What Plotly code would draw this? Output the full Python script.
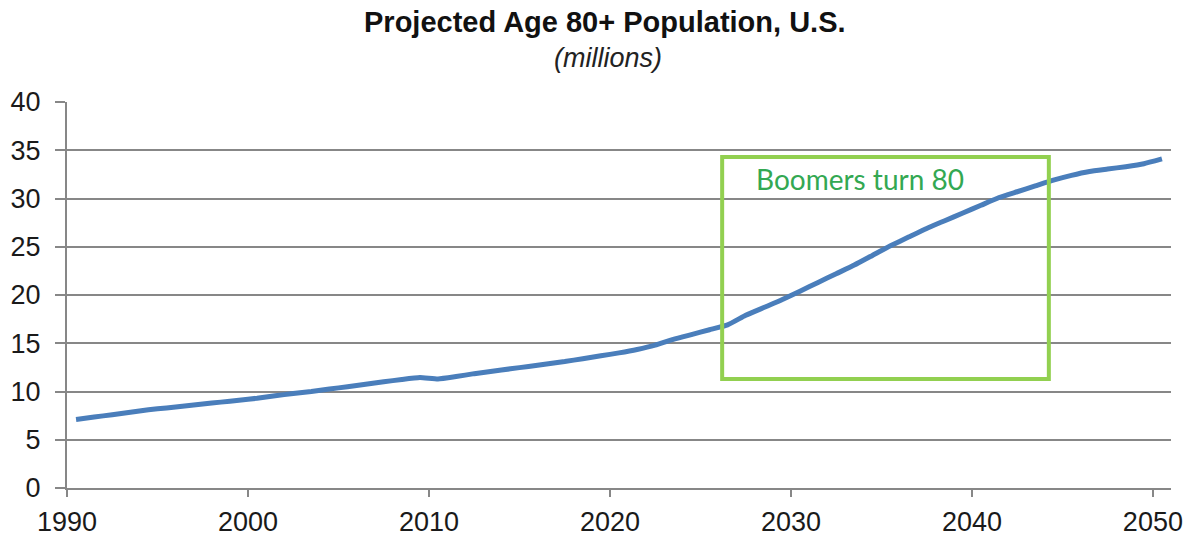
import plotly.graph_objects as go

# Projected U.S. population aged 80 and over, millions (yearly values)
years = list(range(1990, 2051))
population = [
    7.1, 7.35, 7.6, 7.85, 8.1, 8.3, 8.5, 8.7, 8.9, 9.1,        # 1990-1999
    9.3, 9.55, 9.8, 10.0, 10.25, 10.5, 10.75, 11.0, 11.25, 11.45,  # 2000-2009
    11.3, 11.55, 11.85, 12.1, 12.35, 12.6, 12.85, 13.1, 13.4, 13.7,  # 2010-2019
    14.0, 14.35, 14.8, 15.4, 15.9, 16.4, 16.9, 17.9, 18.7, 19.5,   # 2020-2029
    20.4, 21.3, 22.2, 23.1, 24.1, 25.1, 26.0, 26.9, 27.7, 28.5,    # 2030-2039
    29.3, 30.1, 30.7, 31.3, 31.9, 32.4, 32.8, 33.05, 33.3, 33.6,   # 2040-2049
    34.1,                                                          # 2050
]

# Each yearly value sits in the middle of its year on the date axis
x_mid = [y + 0.5 for y in years]

x_ticks = [1990, 2000, 2010, 2020, 2030, 2040, 2050]
y_ticks = [0, 5, 10, 15, 20, 25, 30, 35, 40]

# Highlight window for the baby-boom cohort reaching 80
boom_start, boom_end = 2026.2, 2044.25
boom_low, boom_high = 11.3, 34.3
boom_label = "Boomers turn 80"

GRID = "#878787"
LINE = "#4a7ebb"
BOX = "#92d050"
TEXT_GREEN = "#33a852"
FONT = "Liberation Sans, Arial, sans-serif"

fig = go.Figure()
fig.add_trace(go.Scatter(
    x=x_mid, y=population, mode="lines",
    line=dict(color=LINE, width=5, shape="spline", smoothing=0.4),
    hoverinfo="x+y", showlegend=False,
))

fig.add_shape(
    type="rect", xref="x", yref="y",
    x0=boom_start, x1=boom_end, y0=boom_low, y1=boom_high,
    line=dict(color=BOX, width=4), fillcolor="rgba(0,0,0,0)",
)
fig.add_annotation(
    x=boom_start + 1.75, y=32.0, xref="x", yref="y",
    text=boom_label, showarrow=False, xanchor="left", yanchor="middle",
    font=dict(family="Lato, 'Open Sans', sans-serif", size=28, color=TEXT_GREEN),
)

# Title and unit subtitle
fig.add_annotation(
    x=0.487, y=1.208, xref="paper", yref="paper",
    text="<b>Projected Age 80+ Population, U.S.</b>", showarrow=False,
    xanchor="center", yanchor="middle",
    font=dict(family=FONT, size=29, color="#111111"),
)
fig.add_annotation(
    x=0.49, y=1.114, xref="paper", yref="paper",
    text="<i>(millions)</i>", showarrow=False,
    xanchor="center", yanchor="middle",
    font=dict(family=FONT, size=27, color="#222222"),
)

tick_font = dict(family=FONT, size=27, color="#1a1a1a")

fig.update_layout(
    width=1203, height=537,
    margin=dict(l=67, r=32, t=102, b=49),
    paper_bgcolor="white", plot_bgcolor="white",
    xaxis=dict(
        range=[1990, 2051], tickmode="array", tickvals=x_ticks,
        ticktext=[str(v) for v in x_ticks],
        showgrid=False, zeroline=False, automargin=False,
        showline=True, linecolor=GRID, linewidth=2,
        ticks="outside", ticklen=7, tickwidth=2, tickcolor=GRID,
        tickfont=tick_font, ticklabelstandoff=2,
    ),
    yaxis=dict(
        range=[0, 40], tickmode="array", tickvals=y_ticks,
        ticktext=[str(v) for v in y_ticks],
        showgrid=True, gridcolor=GRID, gridwidth=2, zeroline=False,
        automargin=False,
        showline=True, linecolor=GRID, linewidth=2,
        ticks="outside", ticklen=10, tickwidth=2, tickcolor=GRID,
        tickfont=tick_font, ticklabelstandoff=9,
    ),
)

fig.write_html("out.html")
